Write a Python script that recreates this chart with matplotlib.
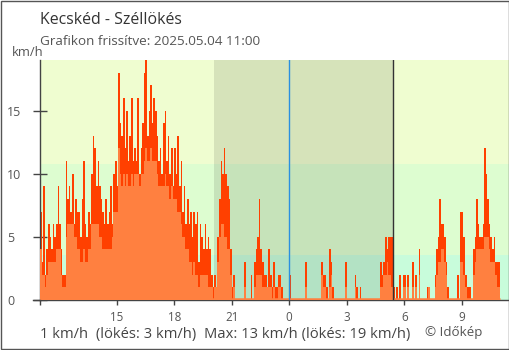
import numpy as np
import matplotlib.pyplot as plt
from matplotlib.patches import Rectangle
from matplotlib.lines import Line2D

plt.rcParams["font.family"] = ["Open Sans", "DejaVu Sans"]

# 5-minute values from 2025.05.03 11:00 to 2025.05.04 11:00 (km/h), one row per hour
START_H = 11.0
STEP_MIN = 5

gust_rows = [
    [7, 3, 9, 2, 4, 6, 5, 4, 6, 5, 6, 9],          # 11
    [6, 4, 2, 2, 11, 8, 9, 7, 10, 6, 8, 7],        # 12
    [7, 5, 8, 11, 6, 5, 7, 6, 10, 13, 12, 9],      # 13
    [11, 9, 8, 7, 6, 8, 6, 7, 9, 6, 10, 11],       # 14
    [9, 18, 14, 13, 16, 12, 15, 11, 13, 16, 11, 12],  # 15
    [11, 16, 10, 12, 14, 18, 19, 13, 15, 17, 14, 16],  # 16
    [15, 13, 11, 12, 10, 14, 15, 11, 13, 10, 12, 9],   # 17
    [12, 10, 13, 9, 11, 7, 9, 6, 8, 6, 7, 5],      # 18
    [7, 6, 7, 3, 6, 5, 4, 6, 4, 5, 4, 2],          # 19
    [1, 2, 1, 5, 8, 11, 10, 12, 10, 9, 8, 4],      # 20
    [1, 2, 0, 0, 0, 0, 0, 0, 3, 0, 0, 0],          # 21
    [2, 0, 3, 4, 5, 8, 4, 3, 2, 2, 1, 4],          # 22
    [2, 1, 3, 1, 1, 2, 2, 1, 0, 0, 0, 0],          # 23
    [2, 0, 0, 0, 0, 0, 0, 0, 0, 0, 3, 0],          # 0
    [0, 0, 0, 0, 0, 0, 0, 0, 3, 2, 2, 1],          # 1
    [0, 4, 3, 1, 0, 0, 0, 0, 0, 0, 0, 3],          # 2
    [0, 0, 0, 0, 0, 2, 1, 0, 1, 0, 0, 0],          # 3
    [0, 0, 0, 0, 0, 0, 0, 0, 0, 3, 2, 3],          # 4
    [5, 4, 5, 5, 5, 1, 0, 1, 0, 2, 0, 2],          # 5
    [2, 0, 2, 0, 0, 3, 0, 2, 0, 4, 0, 0],          # 6
    [0, 0, 1, 1, 0, 0, 0, 2, 4, 5, 8, 6],          # 7
    [6, 5, 3, 1, 0, 0, 0, 0, 0, 2, 0, 7],          # 8
    [7, 5, 2, 1, 1, 1, 0, 4, 5, 8, 6, 5],          # 9
    [5, 6, 12, 10, 8, 6, 5, 4, 5, 3, 3, 3],        # 10
]

mean_rows = [
    [4, 2, 2, 1, 2, 3, 3, 3, 3, 3, 4, 4],          # 11
    [4, 2, 1, 1, 5, 6, 6, 6, 6, 5, 5, 4],          # 12
    [4, 3, 3, 4, 3, 3, 4, 4, 6, 6, 6, 6],          # 13
    [6, 5, 5, 4, 4, 4, 4, 4, 4, 5, 7, 7],          # 14
    [7, 12, 10, 9, 10, 9, 10, 9, 9, 10, 9, 10],    # 15
    [10, 10, 9, 10, 10, 11, 12, 11, 11, 12, 11, 11],  # 16
    [11, 10, 9, 9, 9, 9, 10, 9, 9, 8, 9, 8],       # 17
    [8, 8, 7, 7, 6, 5, 5, 4, 4, 3, 3, 2],          # 18
    [3, 2, 2, 1, 2, 2, 2, 2, 2, 1, 1, 1],          # 19
    [0, 1, 1, 3, 5, 6, 6, 5, 5, 4, 4, 2],          # 20
    [0, 1, 0, 0, 0, 0, 0, 0, 1, 0, 0, 0],          # 21
    [0, 0, 1, 2, 2, 2, 2, 1, 1, 1, 1, 1],          # 22
    [1, 0, 1, 0, 0, 1, 1, 0, 0, 0, 0, 0],          # 23
    [0, 0, 0, 0, 0, 0, 0, 0, 0, 0, 1, 0],          # 0
    [0, 0, 0, 0, 0, 0, 0, 0, 2, 1, 1, 0],          # 1
    [0, 1, 2, 0, 0, 0, 0, 0, 0, 0, 0, 1],          # 2
    [0, 0, 0, 0, 0, 1, 0, 0, 0, 0, 0, 0],          # 3
    [0, 0, 0, 0, 0, 0, 0, 0, 0, 1, 1, 2],          # 4
    [2, 3, 2, 2, 1, 0, 0, 0, 0, 0, 0, 1],          # 5
    [1, 0, 1, 0, 0, 1, 0, 1, 0, 2, 0, 0],          # 6
    [0, 0, 0, 1, 0, 0, 0, 1, 2, 3, 3, 4],          # 7
    [4, 3, 2, 0, 0, 0, 0, 0, 0, 0, 0, 3],          # 8
    [3, 2, 1, 0, 0, 0, 0, 2, 3, 4, 4, 4],          # 9
    [4, 4, 5, 5, 5, 4, 3, 3, 3, 2, 1, 1],          # 10
]

gust = np.array(gust_rows).ravel()
mean = np.array(mean_rows).ravel()
edges = START_H + np.arange(len(gust) + 1) * STEP_MIN / 60

sunset = 20 + 4 / 60
sunrise = 24 + 5 + 24 / 60
midnight = 24

band_limits = [0, 3.6, 10.8, 19]
band_colors = ["#c8fcdb", "#ddfdd0", "#effdd0"]

tick_pos = [11, 15, 18, 21, 24, 27, 30, 33]
tick_lab = ["", "15", "18", "21", "0", "3", "6", "9"]

W, H = 510, 350
fig = plt.figure(figsize=(W / 100, H / 100), dpi=100)
ax = fig.add_axes([40 / W, 50 / H, 470 / W, 240 / H])

for lo, hi, c in zip(band_limits[:-1], band_limits[1:], band_colors):
    ax.axhspan(lo, hi, color=c, lw=0, zorder=0)
ax.axvspan(sunset, sunrise, color="black", alpha=0.1, lw=0, zorder=1)

ax.stairs(gust, edges, fill=True, color="#ff4000", lw=0, zorder=2)
ax.stairs(mean, edges, fill=True, color="#ff8040", lw=0, zorder=3)
ax.hlines(0.06, edges[0], edges[-1], color="#ff8040", lw=1.8, zorder=4)

ax.axvline(midnight, color="#2a90e0", lw=1, zorder=5)
ax.axvline(sunrise, color="#333333", lw=1, zorder=5)

ax.set_xlim(11.0, 11.0 + 470 / 19.17)
ax.set_ylim(0, 19)

for s in ["top", "right"]:
    ax.spines[s].set_visible(False)
for s in ["left", "bottom"]:
    ax.spines[s].set_color("#444444")
    ax.spines[s].set_linewidth(1)

ax.set_xticks(tick_pos, tick_lab)
ax.set_yticks([0, 5, 10, 15])
ax.tick_params(axis="x", direction="out", length=3.6, width=1, color="#444444",
               labelsize=8.4, labelcolor="#555555", pad=4)
ax.tick_params(axis="y", direction="inout", length=9.6, width=1, color="#444444",
               labelsize=9, labelcolor="#555555", pad=19)
for lab in ax.get_yticklabels():
    lab.set_horizontalalignment("left")
ax.get_xticklines()[8].set_color("#2a90e0")

fig.add_artist(Line2D([33 / W, 40 / W], [50 / H, 50 / H], color="#444444", lw=1))
fig.add_artist(Rectangle((0.001, 0.0015), 0.997, 0.996, fill=False,
                         edgecolor="#555555", lw=1, transform=fig.transFigure))

def ftext(x, y, s, **kw):
    fig.text(x / W, 1 - y / H, s, va="baseline", **kw)

ftext(40, 24, "Kecskéd - Széllökés", fontsize=11.4, color="#333333")
ftext(40, 45, "Grafikon frissítve: 2025.05.04 11:00", fontsize=9.7, color="#555555")
ftext(12, 56, "km/h", fontsize=9.4, color="#555555")
ftext(40, 338, "1 km/h  (lökés: 3 km/h)  Max: 13 km/h (lökés: 19 km/h)",
      fontsize=10.6, color="#444444")
ftext(425, 336, "© Időkép", fontsize=9.6, color="#555555")

fig.savefig("out.png", dpi=100)
